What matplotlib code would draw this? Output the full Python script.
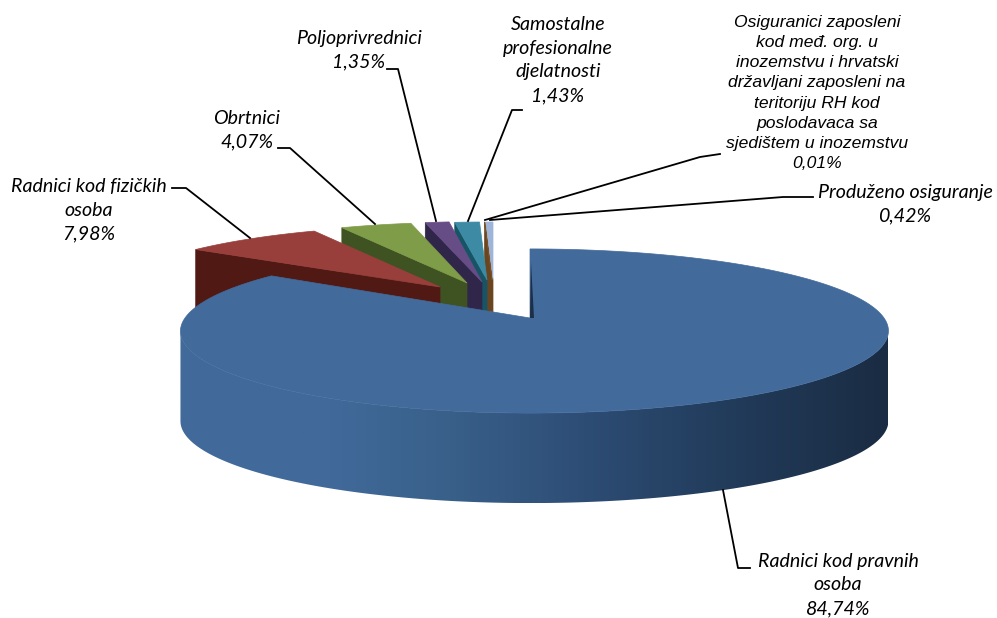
import numpy as np
import matplotlib
matplotlib.use("Agg")
import matplotlib.pyplot as plt
from matplotlib.colors import LinearSegmentedColormap
from matplotlib.patches import Polygon

categories = ["Radnici kod pravnih\nosoba", "Radnici kod fizičkih\nosoba", "Obrtnici", "Poljoprivrednici",
              "Samostalne\nprofesionalne\ndjelatnosti",
              "Osiguranici zaposleni\nkod međ. org. u\ninozemstvu i hrvatski\ndržavljani zaposleni na\nteritoriju RH kod\nposlodavaca sa\nsjedištem u inozemstvu",
              "Produženo osiguranje"]
values = [84.74, 7.98, 4.07, 1.35, 1.43, 0.01, 0.42]
value_labels = ["84,74%", "7,98%", "4,07%", "1,35%", "1,43%", "0,01%", "0,42%"]

top_colors = ["#426a9b", "#983f3c", "#7f9d48", "#674d86", "#3d8aa5", "#7a5020", "#9fb4d9"]
wall_colors = ["#1c2f48", "#511914", "#3f5222", "#30264a", "#175566", "#6a4520", "#6a4520"]
apex_x = [530, 440, 467, 482, 487, 492, 493]
apex_y = [318, 287, 283, 282, 280, 280, 280]
back_scale_x = [1, .945, .94, .95, .93, .93, .93]
back_scale_y = [1, .89, .88, .875, .84, .84, .84]

label_x = [838, 89, 247, 359, 558, 817, 905]
label_y = [585, 210, 130, 50, 60, 93, 204]
label_font = ["Lato", "Lato", "Lato", "Lato", "Lato", "Liberation Sans", "Lato"]
label_size = [14.1, 14.1, 14.1, 14.1, 14.1, 12.6, 14.1]
leaders = [[(750, 568), (738, 568), (723, 490)],
           [(172, 188), (186, 188), (250, 238)],
           [(278, 148), (290, 148), (375, 224)],
           [(387, 69), (398, 69), (436, 221)],
           [(522, 110), (512, 110), (468, 221)],
           [(720, 154), (700, 157), (485, 220)],
           [(813, 197), (783, 197), (490, 220)]]

A, B, K = 349.5, 80.0, 0.1585
DEPTH = 90
SHIFT = 4.5


def project(theta):
    u, v = np.sin(theta), np.cos(theta)
    d = 1 + K * v
    return A * u / d + SHIFT * np.abs(u), -B * v / d


fig = plt.figure(figsize=(9.97, 6.18), dpi=100)
ax = fig.add_axes([0, 0, 1, 1])
ax.axis("off")

edges = np.radians(np.concatenate([[0], np.cumsum(values)]) * 360 / sum(values))
wall_cmap = LinearSegmentedColormap.from_list(
    "wall", [(0, "#416a9b"), (0.21, "#416a9b"), (0.38, "#386089"), (0.55, "#2f4f78"),
             (0.73, "#243f60"), (1, "#1a2c43")])

# slices drawn from the back to the front
for i in range(len(values) - 1, -1, -1):
    th = np.linspace(edges[i], edges[i + 1], max(4, int(np.degrees(edges[i + 1] - edges[i]) * 2)))
    dx, dy = project(th)
    x = apex_x[i] + dx * back_scale_x[i]
    y = apex_y[i] + dy * back_scale_y[i]
    z = 2 * (len(values) - i)
    if i == 0:
        # outer wall with a horizontal shading, clipped to the front part of the rim
        a, b = np.argmax(x), np.argmin(x)
        fx, fy = x[a:b + 1], y[a:b + 1]
        outline = Polygon(np.c_[np.r_[fx, fx[::-1]], np.r_[fy, (fy + DEPTH)[::-1]]], closed=True,
                          transform=ax.transData, fc="none", ec="none")
        ax.add_patch(outline)
        shade = np.linspace(0, 1, 400).reshape(1, -1)
        im = ax.imshow(shade, cmap=wall_cmap, aspect="auto", interpolation="bilinear",
                       extent=[x.min(), x.max(), (y + DEPTH).max(), y.min()], zorder=z)
        im.set_clip_path(outline)
    else:
        # cut face on the near end of the slice, facing the viewer
        ax.fill([x[0], apex_x[i], apex_x[i], x[0]],
                [y[0], apex_y[i], apex_y[i] + DEPTH, y[0] + DEPTH],
                color=wall_colors[i], lw=0.5, zorder=z)
    ax.fill(np.r_[apex_x[i], x], np.r_[apex_y[i], y], color=top_colors[i], lw=0.5, zorder=z + 1)
    if i == 0:
        # the narrow dark sliver of the first slice's cut face
        ax.fill([apex_x[i], apex_x[i] + 4, apex_x[i] + 1],
                [apex_y[i], apex_y[i], apex_y[i] - 56],
                color=wall_colors[i], lw=0, zorder=z + 2)

for pts in leaders:
    xs, ys = zip(*pts)
    ax.plot(xs, ys, color="black", lw=1.3, zorder=30, solid_joinstyle="round")

for cat, val, lx, ly, fnt, sz in zip(categories, value_labels, label_x, label_y, label_font, label_size):
    ax.text(lx, ly, f"{cat}\n{val}", family=fnt, style="italic", fontsize=sz, ha="center", va="center",
            multialignment="center", color="black", linespacing=1.47 if fnt == "Lato" else 1.42, zorder=31)

ax.set_xlim(0, 997)
ax.set_ylim(618, 0)
fig.savefig("out.png", dpi=100)
